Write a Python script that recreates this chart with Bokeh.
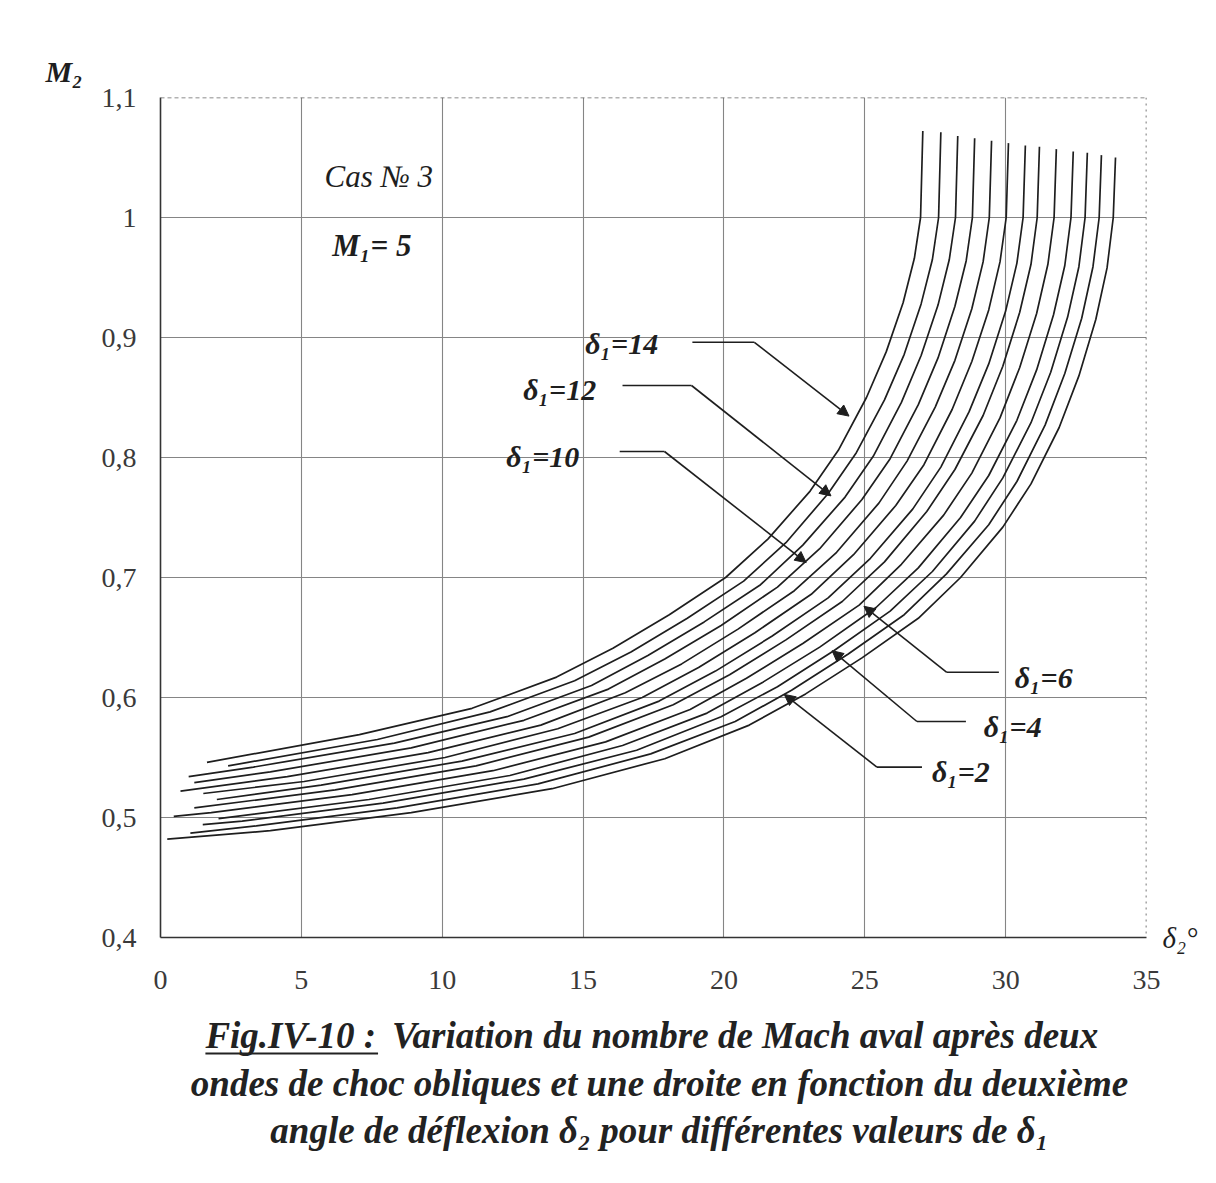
from bokeh.plotting import figure
from bokeh.layouts import column
from bokeh.models import Label, Span, Arrow, NormalHead, FixedTicker, CustomJSTickFormatter, Title, LinearAxis
from bokeh.embed import file_html
from bokeh.resources import INLINE

# ---------------- data ----------------
DELTA1 = [2, 3, 4, 5, 6, 7, 8, 9, 10, 11, 12, 13, 14]

D2_02 = [0.24, 3.9, 8.9, 13.9, 17.9, 20.9, 22.9, 24.9, 26.9, 28.4, 29.9, 30.9, 31.9, 32.6, 33.2, 33.6, 33.82, 33.9]
M2_02 = [0.482, 0.489, 0.504, 0.524, 0.549, 0.577, 0.603, 0.633, 0.666, 0.700, 0.742, 0.778, 0.825, 0.868, 0.915, 0.958, 1.000, 1.050]
D2_03 = [1.06, 3.4, 8.4, 13.4, 17.4, 20.4, 22.4, 24.4, 26.4, 27.9, 29.4, 30.4, 31.4, 32.1, 32.7, 33.1, 33.32, 33.4]
M2_03 = [0.487, 0.493, 0.508, 0.528, 0.553, 0.580, 0.606, 0.636, 0.669, 0.703, 0.744, 0.780, 0.827, 0.870, 0.916, 0.959, 1.000, 1.052]
D2_04 = [1.5, 2.9, 7.9, 12.9, 16.9, 19.9, 21.9, 23.9, 25.9, 27.4, 28.9, 29.9, 30.9, 31.6, 32.2, 32.6, 32.82, 32.9]
M2_04 = [0.494, 0.497, 0.512, 0.532, 0.556, 0.584, 0.609, 0.639, 0.672, 0.705, 0.747, 0.783, 0.829, 0.871, 0.917, 0.959, 1.000, 1.054]
D2_05 = [2.06, 7.4, 12.4, 16.4, 19.4, 21.4, 23.4, 25.4, 26.9, 28.4, 29.4, 30.4, 31.1, 31.7, 32.1, 32.32, 32.4]
M2_05 = [0.499, 0.515, 0.535, 0.560, 0.587, 0.613, 0.642, 0.675, 0.708, 0.750, 0.785, 0.831, 0.873, 0.919, 0.960, 1.000, 1.055]
D2_06 = [0.47, 1.8, 6.8, 11.8, 15.8, 18.8, 20.8, 22.8, 24.8, 26.3, 27.8, 28.8, 29.8, 30.5, 31.1, 31.5, 31.72, 31.8]
M2_06 = [0.501, 0.504, 0.519, 0.539, 0.563, 0.590, 0.616, 0.645, 0.677, 0.711, 0.752, 0.787, 0.833, 0.875, 0.920, 0.961, 1.000, 1.057]
D2_07 = [1.2, 6.2, 11.2, 15.2, 18.2, 20.2, 22.2, 24.2, 25.7, 27.2, 28.2, 29.2, 29.9, 30.5, 30.9, 31.12, 31.2]
M2_07 = [0.508, 0.523, 0.543, 0.567, 0.594, 0.619, 0.648, 0.680, 0.713, 0.755, 0.790, 0.835, 0.876, 0.921, 0.961, 1.000, 1.059]
D2_08 = [2.0, 5.7, 10.7, 14.7, 17.7, 19.7, 21.7, 23.7, 25.2, 26.7, 27.7, 28.7, 29.4, 30.0, 30.4, 30.62, 30.7]
M2_08 = [0.515, 0.527, 0.547, 0.570, 0.597, 0.622, 0.651, 0.683, 0.716, 0.757, 0.792, 0.838, 0.878, 0.922, 0.962, 1.000, 1.060]
D2_09 = [1.52, 5.1, 10.1, 14.1, 17.1, 19.1, 21.1, 23.1, 24.6, 26.1, 27.1, 28.1, 28.8, 29.4, 29.8, 30.02, 30.1]
M2_09 = [0.520, 0.530, 0.550, 0.574, 0.600, 0.625, 0.654, 0.686, 0.719, 0.760, 0.794, 0.840, 0.880, 0.923, 0.963, 1.000, 1.062]
D2_10 = [0.71, 4.5, 9.5, 13.5, 16.5, 18.5, 20.5, 22.5, 24.0, 25.5, 26.5, 27.5, 28.2, 28.8, 29.2, 29.42, 29.5]
M2_10 = [0.522, 0.534, 0.554, 0.577, 0.604, 0.628, 0.657, 0.689, 0.721, 0.762, 0.797, 0.842, 0.881, 0.924, 0.963, 1.000, 1.064]
D2_11 = [1.2, 3.9, 8.9, 12.9, 15.9, 17.9, 19.9, 21.9, 23.4, 24.9, 25.9, 26.9, 27.6, 28.2, 28.6, 28.82, 28.9]
M2_11 = [0.529, 0.538, 0.558, 0.581, 0.607, 0.632, 0.660, 0.692, 0.724, 0.765, 0.799, 0.844, 0.883, 0.926, 0.964, 1.000, 1.066]
D2_12 = [1.0, 3.3, 8.3, 12.3, 15.3, 17.3, 19.3, 21.3, 22.8, 24.3, 25.3, 26.3, 27.0, 27.6, 28.0, 28.22, 28.3]
M2_12 = [0.534, 0.542, 0.562, 0.584, 0.610, 0.635, 0.663, 0.694, 0.727, 0.767, 0.801, 0.846, 0.885, 0.927, 0.965, 1.000, 1.068]
D2_13 = [2.4, 7.7, 11.7, 14.7, 16.7, 18.7, 20.7, 22.2, 23.7, 24.7, 25.7, 26.4, 27.0, 27.4, 27.62, 27.7]
M2_13 = [0.543, 0.565, 0.588, 0.614, 0.638, 0.666, 0.697, 0.729, 0.770, 0.804, 0.848, 0.886, 0.928, 0.965, 1.000, 1.071]
D2_14 = [1.65, 7.06, 11.06, 14.06, 16.06, 18.06, 20.06, 21.56, 23.06, 24.06, 25.06, 25.76, 26.36, 26.76, 26.98, 27.06]
M2_14 = [0.546, 0.569, 0.591, 0.617, 0.641, 0.669, 0.700, 0.732, 0.772, 0.806, 0.850, 0.888, 0.929, 0.966, 1.000, 1.072]

X_TICKS = [0, 5, 10, 15, 20, 25, 30, 35]
Y_TICKS = [0.4, 0.5, 0.6, 0.7, 0.8, 0.9, 1.0, 1.1]

# labelled curves: delta1 value, label position, leader polyline (start, corner, tip)
LABELS = [
    (14, (16.37, 0.895), [18.88, 21.08, 24.44], [0.896, 0.896, 0.8345]),
    (12, (14.17, 0.857), [16.40, 18.85, 23.80], [0.860, 0.860, 0.768]),
    (10, (13.57, 0.801), [16.30, 17.89, 22.92], [0.805, 0.805, 0.7124]),
    (6, (31.35, 0.617), [29.76, 27.91, 24.97], [0.621, 0.621, 0.676]),
    (4, (30.25, 0.5755), [28.59, 26.85, 23.84], [0.580, 0.580, 0.639]),
    (2, (28.41, 0.5385), [27.03, 25.43, 22.14], [0.542, 0.542, 0.6026]),
]

CURVES = [(D2_02, M2_02), (D2_03, M2_03), (D2_04, M2_04), (D2_05, M2_05), (D2_06, M2_06),
          (D2_07, M2_07), (D2_08, M2_08), (D2_09, M2_09), (D2_10, M2_10), (D2_11, M2_11),
          (D2_12, M2_12), (D2_13, M2_13), (D2_14, M2_14)]

CAPTION_1A = "Fig.IV-10 :"
CAPTION_1B = "Variation du nombre de Mach aval après deux"
CAPTION_2 = "ondes de choc obliques et une droite en fonction du deuxième"
CAPTION_3 = "angle de déflexion δ₂ pour différentes valeurs de δ₁"

SERIF = "Liberation Serif"
INK = "#1e1e1e"

p = figure(width=1200, height=1010, x_range=(0, 35), y_range=(0.4, 1.1),
           output_backend="svg", toolbar_location=None,
           min_border_left=160, min_border_right=52, min_border_top=97, min_border_bottom=73)
p.outline_line_color = None
p.background_fill_color = "white"
p.border_fill_color = "white"

# axes
p.xaxis.ticker = FixedTicker(ticks=X_TICKS)
p.yaxis.ticker = FixedTicker(ticks=Y_TICKS)
p.yaxis.formatter = CustomJSTickFormatter(code="""
    if (Math.abs(tick - 1) < 1e-9) { return '1'; }
    return tick.toFixed(1).replace('.', ',');
""")
for ax in (p.xaxis, p.yaxis):
    ax.axis_line_color = "#333333"
    ax.axis_line_width = 1.6
    ax.major_tick_out = 0
    ax.major_tick_in = 0
    ax.minor_tick_out = 0
    ax.minor_tick_in = 0
    ax.major_label_text_font = SERIF
    ax.major_label_text_font_size = "28px"
    ax.major_label_text_color = "#3a3a3a"
p.yaxis.major_label_standoff = 24
p.xaxis.major_label_standoff = 33

# δ2° label: an empty right axis whose label sits at its lower end
rax = LinearAxis(axis_line_color=None, major_tick_line_color=None, minor_tick_line_color=None,
                 major_label_text_font_size="0px", axis_label="δ₂°",
                 axis_label_text_font=SERIF, axis_label_text_font_style="italic",
                 axis_label_text_font_size="29px", axis_label_text_color=INK,
                 axis_label_standoff=16)
rax.ticker = FixedTicker(ticks=[])
rax.axis_label_orientation = "horizontal"
rax.axis_label_text_baseline = "middle"
try:
    rax.axis_label_align = "start"
except Exception:
    pass
p.add_layout(rax, "right")

# M2 label above the y axis
p.add_layout(Title(text="M₂", align="left", offset=-115, text_font=SERIF, text_font_style="bold italic",
                   text_font_size="30px", text_color=INK, standoff=20), "above")

p.xgrid.ticker = FixedTicker(ticks=[5, 10, 15, 20, 25, 30])
p.ygrid.ticker = FixedTicker(ticks=[0.5, 0.6, 0.7, 0.8, 0.9, 1.0])
p.grid.grid_line_color = "#858585"
p.grid.grid_line_width = 1.1

p.add_layout(Span(location=35, dimension="height", line_color="#555555", line_width=1.6, line_dash="dotted"))
p.add_layout(Span(location=1.1, dimension="width", line_color="#666666", line_width=1.4, line_dash="4 3"))

# curves
for xs, ys in CURVES:
    p.line(xs, ys, line_color=INK, line_width=1.7)

# curve labels with leader arrows
for d1, (tx, ty), lx, ly in LABELS:
    p.add_layout(Label(x=tx, y=ty, text=f"δ₁={d1}", text_font=SERIF, text_font_style="bold italic",
                       text_font_size="30px", text_color=INK, text_align="center", text_baseline="middle"))
    p.line(lx[:2], ly[:2], line_color=INK, line_width=1.6)
    p.add_layout(Arrow(x_start=lx[1], y_start=ly[1], x_end=lx[2], y_end=ly[2],
                       line_color=INK, line_width=1.6,
                       end=NormalHead(size=11, fill_color=INK, line_color=INK)))

p.add_layout(Label(x=7.75, y=1.034, text="Cas № 3", text_font=SERIF, text_font_style="italic",
                   text_font_size="31px", text_color=INK, text_align="center", text_baseline="middle"))
p.add_layout(Label(x=7.5, y=0.977, text="M₁= 5", text_font=SERIF, text_font_style="bold italic",
                   text_font_size="31px", text_color=INK, text_align="center", text_baseline="middle"))

# ---------------- caption panel (coordinates in page pixels) ----------------
cap = figure(width=1200, height=165, x_range=(160, 1148), y_range=(1175, 1010),
             output_backend="svg", toolbar_location=None,
             min_border=0, x_axis_location=None, y_axis_location=None)
cap.outline_line_color = None
cap.grid.visible = False
cap.background_fill_color = "white"
cap.border_fill_color = "white"

def clab(x, y, text, align):
    cap.add_layout(Label(x=x, y=y, text=text, text_font=SERIF, text_font_style="bold italic",
                         text_font_size="37px", text_color="#222222", text_align=align,
                         text_baseline="middle"))

clab(205, 1035, CAPTION_1A, "left")
clab(392, 1035, CAPTION_1B, "left")
clab(660, 1083, CAPTION_2, "center")
clab(660, 1130, CAPTION_3, "center")
cap.line([205, 378], [1053, 1053], line_color="#222222", line_width=2)

layout = column(p, cap, spacing=0)
open("out.html", "w").write(file_html(layout, INLINE))
